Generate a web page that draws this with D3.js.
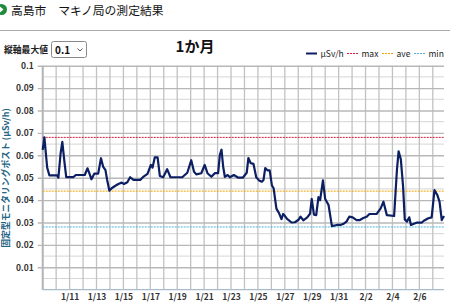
<!DOCTYPE html>
<html>
   <head>
      <meta charset="utf-8">
      <script type="text/javascript" src="https://d3js.org/d3.v7.min.js"></script>
      <style>
         body { margin: 0; background: #fff; }
         text { font-family: "Noto Sans CJK JP", "Noto Sans", sans-serif; }
      </style>
   </head>

   <body>
      <div id="container"></div>
      <script>
            // data
            var startDate = new Date(2022, 0, 9, 0, 0);
            var hoursFromStart = [0, 3, 8, 12, 26, 28, 32, 35, 39, 42, 55, 59, 75, 80, 83, 87, 92, 99, 104, 108,
                112, 115, 119, 123, 129, 135, 141, 145, 151, 156, 162, 174, 180, 187, 190, 193, 196, 200, 205, 209,
                215, 222, 228, 249, 258, 265, 270, 274, 283, 289, 294, 301, 307, 313, 316, 319, 322, 325, 330, 334,
                341, 349, 357, 364, 367, 371, 376, 381, 386, 391, 394, 397, 401, 405, 409, 412, 417, 422, 426, 429,
                432, 436, 444, 450, 456, 460, 465, 472, 477, 480, 484, 488, 492, 495, 500, 504, 510, 516, 525, 531,
                536, 542, 547, 553, 560, 566, 572, 578, 583, 596, 603, 608, 614, 627, 632, 635, 639, 643, 646, 650,
                654, 657, 661, 667, 676, 680, 688, 694, 699, 704, 708, 712, 716];
            var usvh = [0.0624, 0.068, 0.0545, 0.051, 0.051, 0.050, 0.061, 0.066, 0.0565, 0.0503, 0.0503, 0.0512, 0.0512, 0.0542, 0.0522, 0.0493, 0.0518, 0.0518, 0.0587, 0.0548,
                0.0534, 0.049, 0.0442, 0.0453, 0.0463, 0.0472, 0.0478, 0.0472, 0.048, 0.0502, 0.049, 0.049, 0.0505, 0.0517, 0.0537, 0.0557, 0.0545, 0.0591, 0.0591, 0.0508,
                0.0502, 0.0538, 0.0502, 0.0502, 0.0522, 0.0578, 0.0527, 0.0515, 0.052, 0.0557, 0.052, 0.0504, 0.052, 0.052, 0.0601, 0.0625, 0.0549, 0.0504, 0.0512, 0.0502,
                0.0512, 0.050, 0.050, 0.0522, 0.0588, 0.0565, 0.0562, 0.0502, 0.0488, 0.0482, 0.049, 0.0543, 0.0533, 0.0533, 0.0465, 0.0453, 0.0362, 0.034, 0.0315, 0.0338,
                0.033, 0.0316, 0.030, 0.0301, 0.0311, 0.0326, 0.031, 0.0323, 0.0339, 0.0405, 0.0335, 0.0333, 0.0413, 0.040, 0.0488, 0.0405, 0.0378, 0.0284, 0.0289, 0.0289,
                0.0293, 0.0304, 0.0326, 0.0323, 0.0311, 0.0311, 0.032, 0.0326, 0.0338, 0.0338, 0.0363, 0.0393, 0.0333, 0.0329, 0.0534, 0.0618, 0.0582, 0.046, 0.0314, 0.0304,
                0.0323, 0.0289, 0.0293, 0.0299, 0.0299, 0.0308, 0.0319, 0.0323, 0.0445, 0.0423, 0.0393, 0.0311, 0.0329];
            var refNames = ["max", "ave", "min"];
            var refValues = [0.068, 0.044, 0.028];
            var refColors = ["#d81b3c", "#f0a500", "#4fb3d9"];
            var yTickLabels = ["0.1", "0.09", "0.08", "0.07", "0.06", "0.05", "0.04", "0.03", "0.02", "0.01"];
            var xTickLabels = ["1/11", "1/13", "1/15", "1/17", "1/19", "1/21", "1/23", "1/25", "1/27", "1/29", "1/31", "2/2", "2/4", "2/6"];

            var width = 450;
            var height = 308;
            var plotLeft = 42.7, plotRight = 444, plotTop = 65.7, plotBottom = 289.7;
            var hour = 3600 * 1000;

            var data = hoursFromStart.map(function(h, i) {
                return {t: new Date(startDate.getTime() + h * hour), v: usvh[i]};
            });

            var svg = d3.select("div#container").append("svg")
                .attr("width", width)
                .attr("height", height);

            var xScale = d3.scaleTime()
                .domain(d3.extent(data, function(d) { return d.t; }))
                .range([plotLeft, plotRight]);
            var yScale = d3.scaleLinear()
                .domain([0, 0.1])
                .range([plotBottom, plotTop]);

            // header
            svg.append("circle").attr("cx", 1.5).attr("cy", 9.5).attr("r", 5.5).attr("fill", "#1f8a3b");
            svg.append("path").attr("d", "M0,6.5 L3.5,9.5 L0,12.5 Z").attr("fill", "#fff");
            svg.append("text").attr("x", 11).attr("y", 14.5)
                .style("font-size", "11.8px").attr("fill", "#111")
                .text("高島市　マキノ局の測定結果");
            svg.append("line").attr("x1", 0).attr("x2", width).attr("y1", 30.5).attr("y2", 30.5)
                .attr("stroke", "#aaa").attr("stroke-width", 1.2);

            // axis max selector
            svg.append("text").attr("x", 4).attr("y", 52.5)
                .style("font-size", "8.8px").style("font-weight", "bold").attr("fill", "#222")
                .text("縦軸最大値");
            svg.append("rect").attr("x", 51.5).attr("y", 41.5).attr("width", 35).attr("height", 16).attr("rx", 2)
                .attr("fill", "#fff").attr("stroke", "#8a8a8a");
            svg.append("text").attr("x", 55).attr("y", 53.5)
                .style("font-size", "10px").style("font-weight", "bold").attr("fill", "#111")
                .text(d3.max(yScale.domain()));
            svg.append("path").attr("d", "M77.5,48.5 L80,51 L82.5,48.5")
                .attr("fill", "none").attr("stroke", "#555").attr("stroke-width", 1);

            svg.append("text").attr("x", 195).attr("y", 52)
                .attr("text-anchor", "middle")
                .style("font-size", "15px").style("font-weight", "bold").attr("fill", "#111")
                .text("1か月");

            // grid
            var minorTicks = d3.range(0.005, 0.1, 0.01);
            svg.append("g").selectAll("line").data(minorTicks).enter().append("line")
                .attr("x1", plotLeft).attr("x2", plotRight)
                .attr("y1", function(d) { return yScale(d); }).attr("y2", function(d) { return yScale(d); })
                .attr("stroke", "#d6d6d6").attr("stroke-width", 1);

            var days = d3.timeDay.range(startDate, xScale.domain()[1]);
            svg.append("g").selectAll("line").data(days).enter().append("line")
                .attr("x1", function(d) { return xScale(d); }).attr("x2", function(d) { return xScale(d); })
                .attr("y1", plotTop).attr("y2", plotBottom)
                .attr("stroke", "#c2c2c2").attr("stroke-width", 1.3);

            var yAxis = svg.append("g")
                .attr("transform", "translate(" + plotLeft + ",0)")
                .call(d3.axisLeft(yScale)
                    .tickValues(yTickLabels.map(Number))
                    .tickFormat(function(d, i) { return yTickLabels[i]; })
                    .tickSize(0)
                    .tickPadding(9));
            yAxis.select(".domain").remove();
            yAxis.selectAll(".tick line")
                .attr("x1", -5)
                .attr("x2", plotRight - plotLeft)
                .attr("stroke", "#b8b8b8").attr("stroke-width", 1.4);
            yAxis.selectAll(".tick text")
                .style("font-family", "'Noto Sans CJK JP', sans-serif")
                .style("font-size", "8.5px").style("font-weight", "bold").attr("fill", "#333");

            svg.append("line").attr("x1", plotLeft).attr("x2", plotLeft).attr("y1", plotTop).attr("y2", plotBottom)
                .attr("stroke", "#b5b5b5").attr("stroke-width", 2);

            var xAxis = svg.append("g")
                .attr("transform", "translate(0," + plotBottom + ")")
                .call(d3.axisBottom(xScale)
                    .tickValues(xTickLabels.map(function(s) {
                        var p = s.split("/");
                        return new Date(2022, +p[0] - 1, +p[1]);
                    }))
                    .tickFormat(function(d, i) { return xTickLabels[i]; })
                    .tickSize(0)
                    .tickPadding(4));
            xAxis.select(".domain").remove();
            xAxis.selectAll(".tick text")
                .style("font-family", "'Noto Sans CJK JP', sans-serif")
                .style("font-size", "8.5px").style("font-weight", "bold").attr("fill", "#333");
            svg.append("line").attr("x1", plotLeft).attr("x2", plotRight).attr("y1", plotBottom).attr("y2", plotBottom)
                .attr("stroke", "#a9bccd").attr("stroke-width", 1.2);

            // reference lines
            svg.append("g").selectAll("line").data(refValues).enter().append("line")
                .attr("x1", plotLeft).attr("x2", plotRight)
                .attr("y1", function(d) { return yScale(d); }).attr("y2", function(d) { return yScale(d); })
                .attr("stroke", function(d, i) { return refColors[i]; })
                .attr("stroke-width", 1)
                .attr("stroke-dasharray", "2,1");

            // measured line
            var line = d3.line()
                .x(function(d) { return xScale(d.t); })
                .y(function(d) { return yScale(d.v); });
            svg.append("path").datum(data)
                .attr("d", line)
                .attr("fill", "none")
                .attr("stroke", "#0c1f63")
                .attr("stroke-width", 2.2)
                .attr("stroke-linejoin", "round");

            // y axis title
            svg.append("text")
                .attr("transform", "translate(9,178) rotate(-90)")
                .attr("text-anchor", "middle")
                .style("font-size", "8.8px").style("font-weight", "bold").attr("fill", "#1f6585")
                .text("固定型モニタリングポスト (μSv/h)");

            // legend
            var legendNames = ["μSv/h"].concat(refNames);
            var legendColors = ["#0c1f63"].concat(refColors);
            var legendX = [306, 347, 382, 414];
            var legend = svg.append("g").selectAll("g").data(legendNames).enter().append("g")
                .attr("transform", function(d, i) { return "translate(" + legendX[i] + ",54)"; });
            legend.append("line")
                .attr("x1", 0).attr("x2", 11).attr("y1", -0.5).attr("y2", -0.5)
                .attr("stroke", function(d, i) { return legendColors[i]; })
                .attr("stroke-width", function(d, i) { return i == 0 ? 2 : 1; })
                .attr("stroke-dasharray", function(d, i) { return i == 0 ? null : "2,1"; });
            legend.append("text")
                .attr("x", 14.5).attr("y", 3)
                .style("font-size", "8.5px").attr("fill", "#1a1a1a")
                .text(function(d) { return d; });
      </script>
   </body>
</html>
